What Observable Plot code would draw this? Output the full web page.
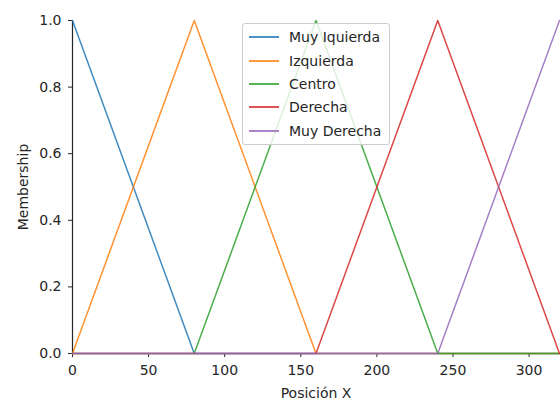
<!DOCTYPE html>
<html>
<head>
<meta charset="utf-8">
<script src="https://cdn.jsdelivr.net/npm/d3@7"></script>
<script src="https://cdn.jsdelivr.net/npm/@observablehq/plot@0.6"></script>
<style>
  html, body { margin: 0; padding: 0; background: #fff; }
  #wrap { position: relative; width: 560px; height: 401px; font-family: "DejaVu Sans", sans-serif; }
  #legend {
    position: absolute; left: 242px; top: 23px; width: 148px; height: 122px;
    background: rgba(255,255,255,0.8); border: 1px solid #cccccc; border-radius: 3px;
    box-sizing: border-box; font-size: 14px; color: #262626;
  }
  .sw { position: absolute; left: 6px; width: 30px; height: 2px; opacity: 0.8; }
  .lab { position: absolute; left: 46px; white-space: nowrap; line-height: 20px; height: 20px; }
</style>
</head>
<body>
<div id="wrap"></div>
<script>
// Data
const xPoints = [0, 80, 160, 240, 320];
const seriesNames = ["Muy Iquierda", "Izquierda", "Centro", "Derecha", "Muy Derecha"];
const muyIzquierda = [1, 0, 0, 0, 0];
const izquierda   = [0, 1, 0, 0, 0];
const centro      = [0, 0, 1, 0, 0];
const derecha     = [0, 0, 0, 1, 0];
const muyDerecha  = [0, 0, 0, 0, 1];
const seriesValues = [muyIzquierda, izquierda, centro, derecha, muyDerecha];
const colors = ["#1f77b4", "#ff7f0e", "#2ca02c", "#d62728", "#9467bd"];
const xTicks = [0, 50, 100, 150, 200, 250, 300];
const yTicks = [0, 0.2, 0.4, 0.6, 0.8, 1.0];

const rows = [];
seriesNames.forEach((name, i) => {
  xPoints.forEach((x, j) => rows.push({series: name, idx: i, x, y: seriesValues[i][j]}));
});

const textColor = "#262626";
const chart = Plot.plot({
  width: 560,
  height: 401,
  marginLeft: 72,
  marginRight: 1,
  marginTop: 20,
  marginBottom: 48,
  style: {fontFamily: "DejaVu Sans, sans-serif", fontSize: "14px", color: textColor, background: "#fff", overflow: "visible"},
  x: {domain: [0, 320]},
  y: {domain: [0, 1]},
  marks: [
    Plot.axisX({ticks: xTicks, tickSize: 4, tickPadding: 8, tickFormat: d => String(d),
      label: "Posición X", labelAnchor: "center", labelOffset: 44, labelArrow: "none", stroke: textColor}),
    Plot.axisY({ticks: yTicks, tickSize: 4, tickPadding: 7, tickFormat: d => d.toFixed(1),
      label: "Membership", labelAnchor: "center", labelOffset: 54, labelArrow: "none", stroke: textColor}),
    Plot.ruleX([0], {stroke: textColor, strokeWidth: 1.2}),
    Plot.ruleY([0], {stroke: textColor, strokeWidth: 1.2}),
    ...seriesNames.map((name, i) =>
      Plot.line(rows.filter(d => d.idx === i), {x: "x", y: "y", stroke: colors[i], strokeWidth: 1.5, strokeOpacity: 0.85, clip: false})
    )
  ]
});

const wrap = document.getElementById("wrap");
wrap.appendChild(chart);

const legend = document.createElement("div");
legend.id = "legend";
const rowCenters = [14.3, 37.7, 60.7, 84, 107.7];
seriesNames.forEach((name, i) => {
  const sw = document.createElement("div");
  sw.className = "sw";
  sw.style.background = colors[i];
  sw.style.top = (rowCenters[i] - 1 - 1) + "px";
  const lab = document.createElement("div");
  lab.className = "lab";
  lab.style.top = (rowCenters[i] - 1 - 10) + "px";
  lab.textContent = name;
  legend.appendChild(sw);
  legend.appendChild(lab);
});
wrap.appendChild(legend);
</script>
</body>
</html>
